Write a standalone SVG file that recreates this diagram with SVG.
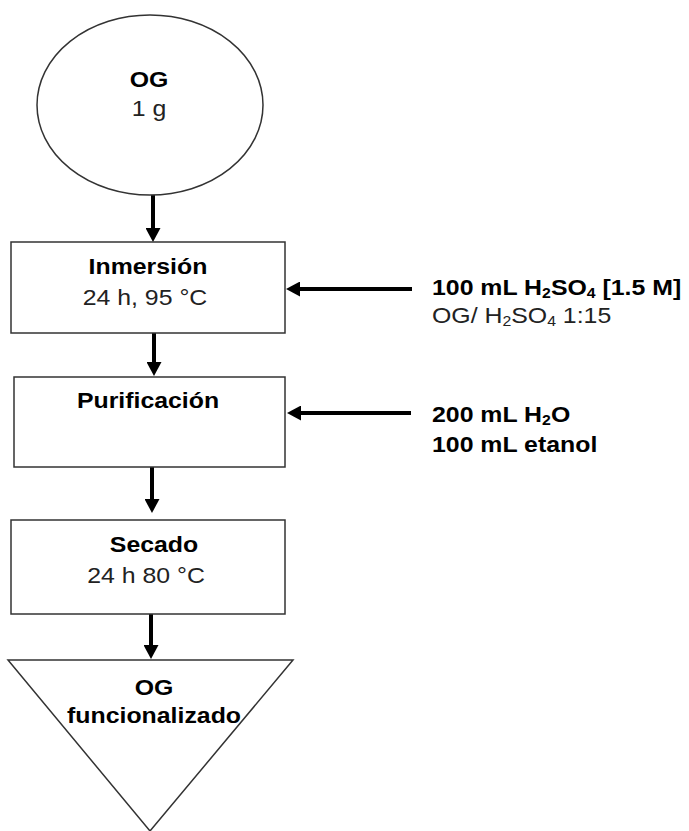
<svg xmlns="http://www.w3.org/2000/svg" width="689" height="831" viewBox="0 0 689 831">
<defs>
<style>
.shape{fill:#fff;stroke:#333;stroke-width:1.5}
.conn{stroke:#000;stroke-width:4;fill:none}
.b{font-family:"Liberation Sans",Arial,sans-serif;font-size:22px;font-weight:bold;fill:#000}
.r{font-family:"Liberation Sans",Arial,sans-serif;font-size:22px;fill:#222}
.c{text-anchor:middle}
.sub{font-size:14px}
</style>
<marker id="ah" markerUnits="userSpaceOnUse" markerWidth="15" markerHeight="15" refX="0" refY="7.5" orient="auto" viewBox="0 0 15 15">
<path d="M0,0 L14,7.5 L0,15 z" fill="#000"/>
</marker>
</defs>
<rect width="689" height="831" fill="#fff"/>
<g id="connectors">
<line class="conn" x1="153" y1="195" x2="153" y2="228" marker-end="url(#ah)"/>
<line class="conn" x1="154" y1="333" x2="154" y2="362" marker-end="url(#ah)"/>
<line class="conn" x1="152" y1="467" x2="152" y2="499" marker-end="url(#ah)"/>
<line class="conn" x1="151" y1="614" x2="151" y2="645" marker-end="url(#ah)"/>
<line class="conn" x1="412" y1="289" x2="300" y2="289" marker-end="url(#ah)"/>
<line class="conn" x1="411" y1="413" x2="301" y2="413" marker-end="url(#ah)"/>
</g>
<g id="og">
<ellipse class="shape" cx="150" cy="105" rx="113" ry="90"/>
<text class="b c" transform="translate(149,87) scale(1.13,1)">OG</text>
<text class="r c" transform="translate(149,116) scale(1.13,1)">1 g</text>
</g>
<g id="inmersion">
<rect class="shape" x="11" y="242" width="274" height="91"/>
<text class="b c" transform="translate(148,274) scale(1.13,1)">Inmersión</text>
<text class="r c" transform="translate(145,305) scale(1.13,1)">24 h, 95 °C</text>
</g>
<g id="acido">
<text class="b" transform="translate(432,295) scale(1.13,1)">100 mL H<tspan class="sub" dy="3">2</tspan><tspan dy="-3">SO</tspan><tspan class="sub" dy="3">4</tspan><tspan dy="-3"> [1.5 M]</tspan></text>
<text class="r" transform="translate(432,323) scale(1.13,1)">OG/ H<tspan class="sub" dy="3">2</tspan><tspan dy="-3">SO</tspan><tspan class="sub" dy="3">4</tspan><tspan dy="-3"> 1:15</tspan></text>
</g>
<g id="purificacion">
<rect class="shape" x="14" y="377" width="271" height="90"/>
<text class="b c" transform="translate(148,408) scale(1.13,1)">Purificación</text>
</g>
<g id="lavado">
<text class="b" transform="translate(432,422) scale(1.13,1)">200 mL H<tspan class="sub" dy="3">2</tspan><tspan dy="-3">O</tspan></text>
<text class="b" transform="translate(432,452) scale(1.13,1)">100 mL etanol</text>
</g>
<g id="secado">
<rect class="shape" x="11" y="520" width="274" height="94"/>
<text class="b c" transform="translate(154,552) scale(1.13,1)">Secado</text>
<text class="r c" transform="translate(146,583) scale(1.13,1)">24 h 80 °C</text>
</g>
<g id="og-funcionalizado">
<polygon class="shape" points="8,660 293,660 150,831"/>
<text class="b c" transform="translate(154,695) scale(1.13,1)">OG</text>
<text class="b c" transform="translate(154,723) scale(1.13,1)">funcionalizado</text>
</g>
</svg>
